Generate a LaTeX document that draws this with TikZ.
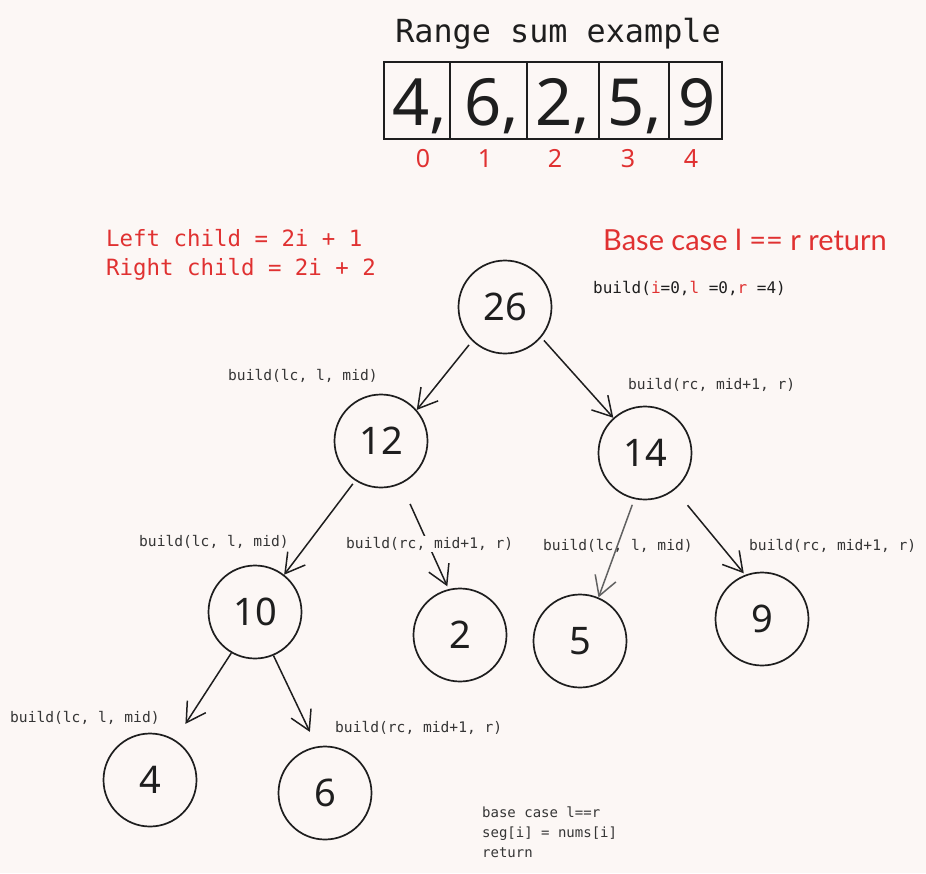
\documentclass[tikz,border=0pt]{standalone}
\usepackage{fontspec}
\setmainfont{Noto Sans}
\newfontfamily\monof{DejaVu Sans Mono}
\newfontfamily\sansf{Lato}
\usetikzlibrary{arrows.meta}
\definecolor{bg}{HTML}{FCF7F5}
\definecolor{ink}{HTML}{1E1E1E}
\definecolor{redink}{HTML}{E03131}
\begin{document}
\begin{tikzpicture}[x=1pt,y=-1pt,
  treenode/.style={circle,draw=ink,line width=1.7pt,minimum size=93pt,inner sep=0pt,font=\fontsize{38}{38}\selectfont,text=ink},
  edge/.style={draw=ink,line width=1.5pt,-{Straight Barb[length=19pt,width=22pt,line width=1.5pt]}},
  lbl/.style={anchor=west,inner sep=1pt,font=\monof\fontsize{14.6}{14.6}\selectfont,text=ink!90},
  cellbox/.style={draw=ink,line width=1.6pt},
  arrnum/.style={anchor=base,inner sep=0pt,font=\fontsize{65}{65}\selectfont,text=ink},
  idx/.style={anchor=base,inner sep=0pt,font=\fontsize{25}{25}\selectfont,text=redink},
  redmono/.style={anchor=base west,inner sep=0pt,font=\monof\fontsize{22.4}{22.4}\selectfont,text=redink}
]
\fill[bg] (0,0) rectangle (926,873);
\useasboundingbox (0,0) rectangle (926,873);

% title
\node[anchor=base,inner sep=0pt,font=\monof\fontsize{31.8}{31.8}\selectfont,text=ink] (title) at (558,42) {Range sum example};

% array
\draw[cellbox] (384,62) rectangle (722,139);
\draw[cellbox,line width=2.2pt] (450,62) -- (450,139);
\draw[cellbox,line width=2.2pt] (527,62) -- (527,139);
\draw[cellbox,line width=2.2pt] (599,62) -- (599,139);
\draw[cellbox,line width=2.2pt] (669,62) -- (669,139);
\node[arrnum] (a0) at (420,125) {4,};
\node[arrnum] (a1) at (492,125) {6,};
\node[arrnum] (a2) at (563,125) {2,};
\node[arrnum] (a3) at (635,125) {5,};
\node[arrnum] (a4) at (697,125) {9};
\node[idx] (i0) at (423,167) {0};
\node[idx] (i1) at (485,167) {1};
\node[idx] (i2) at (555,167) {2};
\node[idx] (i3) at (628,167) {3};
\node[idx] (i4) at (691,167) {4};

% notes
\node[redmono] (lc) at (106,246) {Left child = 2i + 1};
\node[redmono] (rc) at (106,275) {Right child = 2i + 2};
\node[anchor=base,inner sep=0pt,font=\sansf\fontsize{29}{29}\selectfont,text=redink] (basecase) at (745,250) {Base case l == r return};
\node[anchor=base west,inner sep=0pt,font=\monof\fontsize{16}{16}\selectfont,text=ink] (rootcall) at (593,293)
  {build(\textcolor{redink}{i}=0,\textcolor{redink}{l} =0,\textcolor{redink}{r} =4)};

% tree nodes
\node[treenode] (n26) at (505,307) {26};
\node[treenode] (n12) at (381,441) {12};
\node[treenode] (n14) at (645,453) {14};
\node[treenode] (n10) at (255,612) {10};
\node[treenode] (n2)  at (460,635) {2};
\node[treenode] (n5)  at (580,641) {5};
\node[treenode] (n9)  at (762,619) {9};
\node[treenode] (n4)  at (150,780) {4};
\node[treenode] (n6)  at (325,793) {6};

% edges
\draw[edge,shorten <=5pt] (n26.226.5) -- (n12.41.6);
\draw[edge,shorten <=4pt] (n26.320.5) -- (n14.132.4);
\draw[edge,shorten <=4pt] (n12.237.5) -- (n10.52.4);
\draw[edge,shorten <=22pt,shorten >=3pt] (n12.295.5) -- (n2.104.9);
\draw[edge,draw=ink!70,shorten <=6pt] (n14.257) -- (n5.67.7);
\draw[edge,shorten <=20pt,shorten >=2pt] (n14.309) -- (n9.111.4);
\draw[edge,shorten >=19pt] (n10.240.7) -- (n4.58);
\draw[edge,shorten >=16pt] (n10.293.8) -- (n6.100);

% labels
\node[lbl] (l1) at (227,376) {build(lc, l, mid)};
\node[lbl] (l2) at (627,385) {build(rc, mid+1, r)};
\node[lbl] (l3) at (138,542) {build(lc, l, mid)};
\node[lbl,fill=bg] (l4) at (345,544) {build(rc, mid+1, r)};
\node[lbl] (l5) at (542,546) {build(lc, l, mid)};
\node[lbl] (l6) at (748,546) {build(rc, mid+1, r)};
\node[lbl] (l7) at (9,718) {build(lc, l, mid)};
\node[lbl] (l8) at (334,728) {build(rc, mid+1, r)};

\node[lbl,align=left,anchor=north west,font=\monof\fontsize{14}{20}\selectfont] (note) at (481,806)
  {base case l==r\\seg[i] = nums[i]\\return};
\end{tikzpicture}
\end{document}
